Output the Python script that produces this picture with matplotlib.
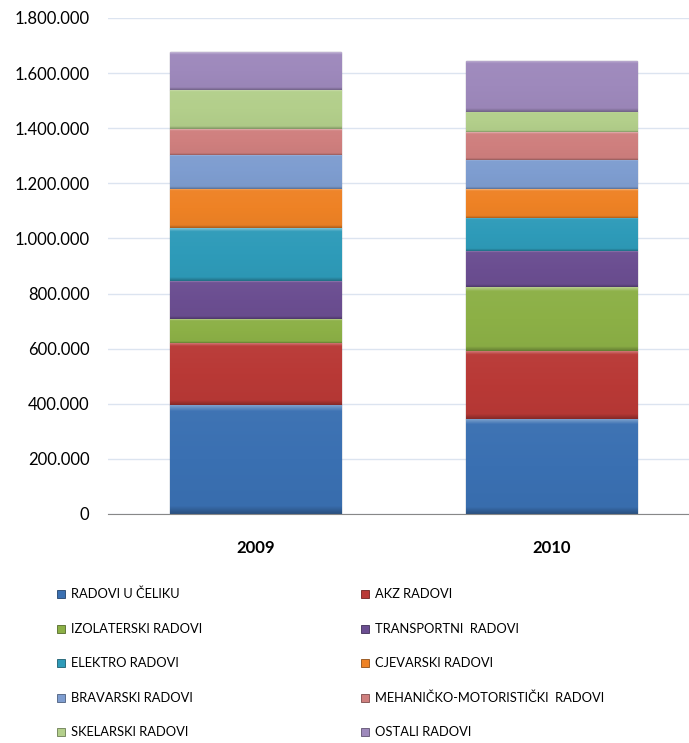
import numpy as np
import matplotlib.pyplot as plt
import matplotlib.colors as mcolors
from matplotlib.patches import Rectangle
from matplotlib.ticker import FuncFormatter

plt.rcParams['font.family'] = ['Lato', 'DejaVu Sans']

years = ['2009', '2010']
categories = ['RADOVI U ČELIKU', 'AKZ RADOVI', 'IZOLATERSKI RADOVI', 'TRANSPORTNI  RADOVI',
              'ELEKTRO RADOVI', 'CJEVARSKI RADOVI', 'BRAVARSKI RADOVI',
              'MEHANIČKO-MOTORISTIČKI  RADOVI', 'SKELARSKI RADOVI', 'OSTALI RADOVI']
v2009 = [395600, 226100, 84900, 140100, 190100, 141600, 124500, 93300, 142500, 136900]
v2010 = [344800, 246800, 231100, 132900, 119800, 103000, 106400, 100400, 72600, 187300]
colors = ['#3A70B2', '#B93936', '#8CB046', '#6B4E91', '#2E9BB9', '#EE8225',
          '#7E9DD0', '#CF7F7E', '#B3CF8B', '#9E89BC']

W, H = 689, 743
fig = plt.figure(figsize=(W / 100, H / 100), dpi=100)
ax = fig.add_axes([107.5 / W, (H - 514) / H, 592 / W, 496 / H])

x = np.arange(len(years))
bottom = np.zeros(len(years))
for i, name in enumerate(categories):
    vals = np.array([v2009[i], v2010[i]])
    c = np.array(mcolors.to_rgb(colors[i]))
    b = ax.bar(x, vals, width=0.578, bottom=bottom, color=colors[i],
               edgecolor=tuple(c * 0.6), linewidth=0.9, zorder=3, label=name)
    # bevel-like shading: light rim at top, darker towards bottom
    for p in b:
        x0, y0 = p.get_x(), p.get_y()
        w, h = p.get_width(), p.get_height()
        t = np.linspace(0, 1, 100)
        shade = np.where(t < 0.06, 0.35 * (1 - t / 0.06), 0) + 0.06 * (0.5 - t)
        shade = shade - np.where(t > 0.93, 0.25 * (t - 0.93) / 0.07, 0)
        img = np.clip(c[None, :] + shade[:, None] * np.where(shade[:, None] > 0, 1 - c[None, :], c[None, :]), 0, 1)
        img = np.repeat(img[:, None, :], 2, axis=1)
        im = ax.imshow(img, extent=(x0, x0 + w, y0, y0 + h), aspect='auto',
                       zorder=3.5, origin='upper', interpolation='bilinear')
        im.set_clip_path(p)
    bottom += vals

ax.set_xlim(-0.5, 1.5)
ax.set_ylim(0, 1800000)
ax.set_yticks(np.arange(0, 1800001, 200000))
ax.yaxis.set_major_formatter(FuncFormatter(lambda v, _: f'{int(v):,}'.replace(',', '.')))
ax.set_xticks(x)
ax.set_xticklabels(years, fontweight='bold')
ax.tick_params(axis='both', length=0, labelsize=12, colors='black')
ax.tick_params(axis='y', pad=13)
ax.tick_params(axis='x', pad=19)
ax.grid(axis='y', color='#DCE4F0', linewidth=1, zorder=0)
for s in ['left', 'right', 'top']:
    ax.spines[s].set_visible(False)
ax.spines['bottom'].set_color('#888888')
ax.spines['bottom'].set_zorder(4)

# legend, two columns, row-major order
for i, name in enumerate(categories):
    col, row = i % 2, i // 2
    px = 57 if col == 0 else 361
    py = 594 + row * 34.6
    c = np.array(mcolors.to_rgb(colors[i]))
    fig.patches.append(Rectangle((px / W, 1 - (py + 4) / H), 8 / W, 8 / H,
                                 transform=fig.transFigure, facecolor=colors[i],
                                 edgecolor=tuple(c * 0.6), linewidth=0.6))
    fig.text((px + 14) / W, 1 - py / H, name, fontsize=9.3, va='center', ha='left')

fig.savefig('out.png', dpi=100)
